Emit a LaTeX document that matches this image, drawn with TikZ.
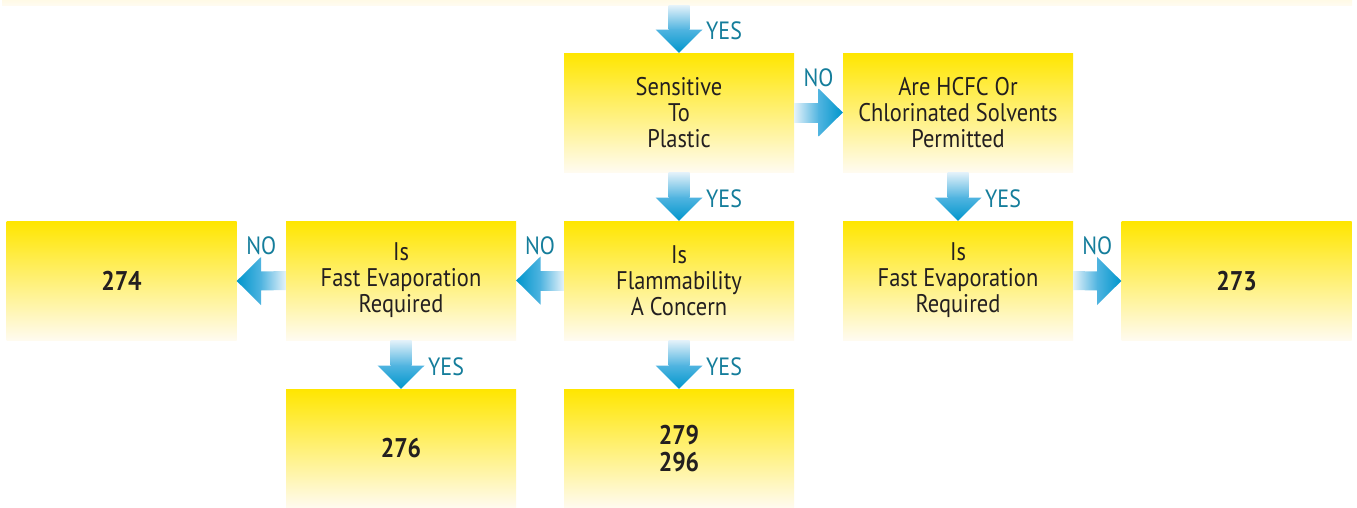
\documentclass[tikz,border=0pt]{standalone}
\usepackage{fontspec}
\setmainfont[FakeStretch=0.88]{PT Sans}
\usetikzlibrary{calc}
\definecolor{boxtop}{RGB}{255,230,0}
\definecolor{boxbot}{RGB}{255,251,240}
\definecolor{lbl}{RGB}{20,125,155}
\definecolor{al}{RGB}{228,242,250}
\definecolor{am}{RGB}{80,180,224}
\definecolor{ab}{RGB}{0,150,204}
\definecolor{txt}{RGB}{35,31,32}
\newcommand{\dnarr}[2]{%
  \shade[top color=al, bottom color=am]
    ($(#1)+(-10.5,0)$) -- ($(#2)+(-10.5,-23)$) -- ($(#2)+(10.5,-23)$) -- ($(#1)+(10.5,0)$) -- cycle;
  \shade[top color=am, bottom color=ab]
    ($(#2)+(-23.5,-23.3)$) -- (#2) -- ($(#2)+(23.5,-23.3)$) -- cycle;}
\newcommand{\rtarr}[2]{%
  \shade[left color=al, right color=am]
    ($(#1)+(0,-9.5)$) -- ($(#2)+(-24,-9.5)$) -- ($(#2)+(-24,9.5)$) -- ($(#1)+(0,9.5)$) -- cycle;
  \shade[left color=am, right color=ab]
    ($(#2)+(-24.3,-24)$) -- (#2) -- ($(#2)+(-24.3,24)$) -- cycle;}
\newcommand{\ltarr}[2]{%
  \shade[right color=al, left color=am]
    ($(#1)+(0,-9.5)$) -- ($(#2)+(24,-9.5)$) -- ($(#2)+(24,9.5)$) -- ($(#1)+(0,9.5)$) -- cycle;
  \shade[right color=am, left color=ab]
    ($(#2)+(24.3,-24)$) -- (#2) -- ($(#2)+(24.3,24)$) -- cycle;}
\begin{document}
\begin{tikzpicture}[x=1pt,y=-1pt,
  box/.style={minimum width=230, minimum height=119, inner sep=0, top color=boxtop, bottom color=boxbot, align=center, text=txt, font=\fontsize{25.5}{26}\selectfont},
  numbox/.style={box, font=\fontsize{27}{27}\selectfont\bfseries},
  lab/.style={text=lbl, font=\fontsize{25}{26}\selectfont, inner sep=0}]
\useasboundingbox (0,0) rectangle (1357,507);
\fill[white] (0,0) rectangle (1357,507);
\node[box, minimum width=1350, draw=none] (prev) at (677,-54.5) {};
\node[box] (s) at (679,112.5) {Sensitive\\To\\Plastic};
\node[box] (h) at (958,112.5) {Are HCFC Or\\Chlorinated Solvents\\Permitted};
\node[box] (f) at (679,280.5) {Is\\Flammability\\A Concern};
\node[box] (e1) at (401,280.5) {Is\\Fast Evaporation\\Required};
\node[numbox] (n274) at (121.5,281) {274};
\node[box] (e2) at (958,280.5) {Is\\Fast Evaporation\\Required};
\node[numbox] (n273) at (1236.5,281) {273};
\node[numbox] (n276) at (401,448.5) {276};
\node[numbox] (n279) at (679,448.5) {279\\296};
% arrows
\dnarr{s.south |- prev.south}{s.north}
\dnarr{s.south}{f.north}
\dnarr{h.south}{e2.north}
\dnarr{e1.south}{n276.north}
\dnarr{f.south}{n279.north}
\rtarr{s.east}{h.west}
\rtarr{e2.east}{n273.west}
\ltarr{f.west}{e1.east}
\ltarr{e1.west}{n274.east}
% labels
\node[lab, anchor=west] at ($(s.north)+(27,-22)$) {YES};
\node[lab, anchor=west] at ($(f.north)+(27,-22)$) {YES};
\node[lab, anchor=west] at ($(e2.north)+(27,-22)$) {YES};
\node[lab, anchor=west] at ($(n276.north)+(27,-22)$) {YES};
\node[lab, anchor=west] at ($(n279.north)+(27,-22)$) {YES};
\node[lab] at ($(s.east)!0.5!(h.west)+(0,-35)$) {NO};
\node[lab] at ($(e2.east)!0.5!(n273.west)+(0,-35)$) {NO};
\node[lab] at ($(f.west)!0.5!(e1.east)+(0,-35)$) {NO};
\node[lab] at ($(e1.west)!0.5!(n274.east)+(0,-35)$) {NO};
\end{tikzpicture}
\end{document}
